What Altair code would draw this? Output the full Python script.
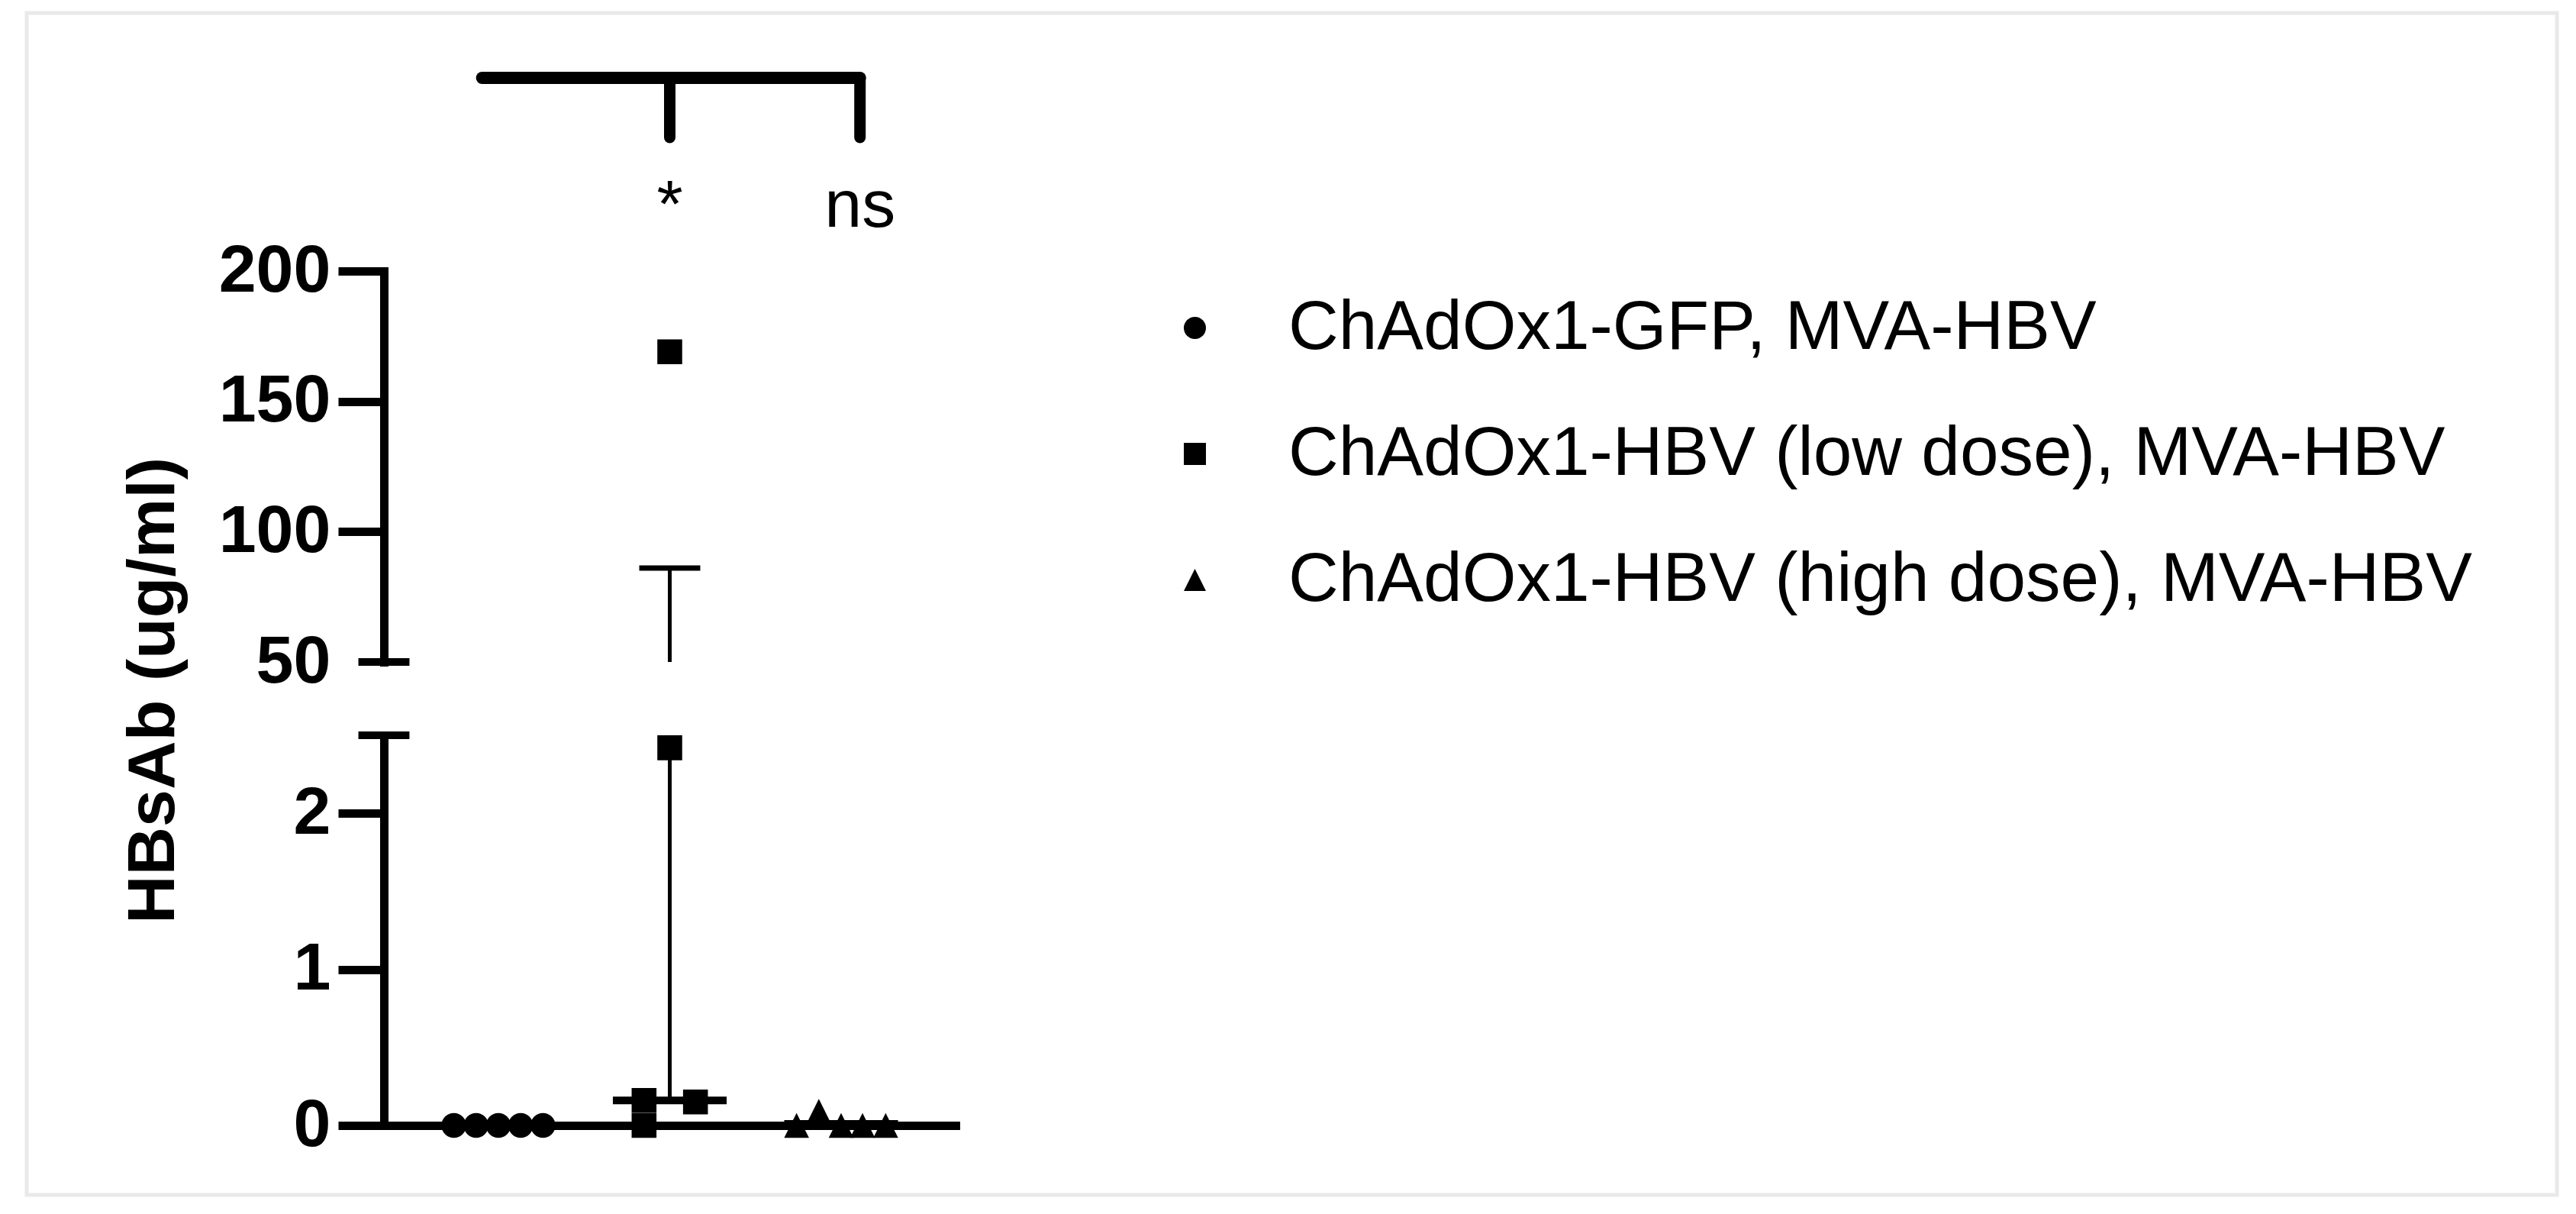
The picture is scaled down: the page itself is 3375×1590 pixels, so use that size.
import altair as alt
import pandas as pd

FONT = "Liberation Sans"

# ---------------- data ----------------
groups = [
    "ChAdOx1-GFP, MVA-HBV",
    "ChAdOx1-HBV (low dose), MVA-HBV",
    "ChAdOx1-HBV (high dose), MVA-HBV",
]
group_pos = [1, 2, 3]

gfp_values = [0.0, 0.0, 0.0, 0.0, 0.0]
gfp_offsets = [-0.26, -0.13, 0.0, 0.13, 0.26]

low_values = [0.0, 0.16, 169.0, 2.42, 0.15]
low_offsets = [-0.15, -0.15, 0.0, 0.0, 0.15]

high_values = [0.0, 0.09, 0.0, 0.0, 0.0]
high_offsets = [-0.26, -0.13, 0.0, 0.125, 0.26]

medians = [0.0, 0.16, 0.01]
err_upper = [0.0, 86.0, 0.01]

upper_ticks = [50, 100, 150, 200]
lower_ticks = [0, 1, 2]
upper_domain = [50, 200]
lower_domain = [0, 2.5]

sig_labels = ["*", "ns"]
sig_x = [2.0, 3.11]
bracket_x = [0.905, 3.11]

# ---------------- tables ----------------
rows = []
for g, pos, vals, offs in zip(groups, group_pos,
                              [gfp_values, low_values, high_values],
                              [gfp_offsets, low_offsets, high_offsets]):
    for v, o in zip(vals, offs):
        rows.append({"group": g, "x": pos + o, "value": v})
points = pd.DataFrame(rows)

err = pd.DataFrame({"group": groups, "x": group_pos, "median": medians, "top": err_upper})

X_DOMAIN = [0.332, 3.668]
BREAK_HALF = 0.149
MEDIAN_HALF = 0.332
CAP_HALF = 0.178

breaks_up = pd.DataFrame({"x": [X_DOMAIN[0] - BREAK_HALF], "x2": [X_DOMAIN[0] + BREAK_HALF],
                          "value": [upper_domain[0]]})
breaks_lo = pd.DataFrame({"x": [X_DOMAIN[0] - BREAK_HALF], "x2": [X_DOMAIN[0] + BREAK_HALF],
                          "value": [lower_domain[1]]})

bracket_h = pd.DataFrame({"x": [bracket_x[0]], "x2": [bracket_x[1]], "y": [1.0]})
bracket_v = pd.DataFrame({"x": sig_x, "y": [1.0, 1.0], "y2": [0.6, 0.6]})
sig = pd.DataFrame({"x": sig_x, "y": [0.0, 0.0], "label": sig_labels})

# ---------------- scales & axes ----------------
xscale = alt.Scale(domain=X_DOMAIN, range=[468, 1217], nice=False, zero=False)
xaxis = alt.Axis(orient="bottom", offset=-91, domainWidth=11, domainColor="black",
                 domainCap="square", ticks=False, labels=False, grid=False, title=None)

yup_scale = alt.Scale(domain=upper_domain, range=[850, 338], nice=False, zero=False)
ylo_scale = alt.Scale(domain=lower_domain, range=[1457, 946], nice=False, zero=False)
yann_scale = alt.Scale(domain=[0, 1], range=[280, 85], nice=False, zero=False)

axis_common = dict(
    orient="left", offset=-468, domainWidth=11, domainColor="black", domainCap="square",
    tickSize=60, tickWidth=11, tickColor="black",
    labelFont=FONT, labelFontWeight="bold", labelFontSize=88, labelColor="black",
    labelPadding=10, grid=False,
)
yup_axis = alt.Axis(
    values=upper_ticks,
    tickOpacity={"condition": {"test": "datum.value === 50", "value": 0}, "value": 1},
    title="HBsAb (ug/ml)", titleFont=FONT, titleFontWeight="bold", titleFontSize=88,
    titleColor="black", titleX=-276, titleY=887, titleAngle=270,
    titleBaseline="alphabetic", titleAlign="center",
    **axis_common,
)
ylo_axis = alt.Axis(values=lower_ticks, title=None, **axis_common)

x_enc = alt.X("x:Q", scale=xscale, axis=xaxis)

shape_enc = alt.Shape(
    "group:N",
    scale=alt.Scale(domain=groups, range=["circle", "square", "M0,-1L1,1L-1,1Z"]),
    legend=alt.Legend(
        orient="none", legendX=1485, legendY=367, title=None,
        labelFont=FONT, labelFontSize=91, labelColor="black", labelLimit=0,
        symbolSize=841, symbolFillColor="black", symbolStrokeColor="black",
        symbolStrokeWidth=0, symbolOpacity=1,
        rowPadding=73, labelOffset=77, padding=0,
    ),
)

# ---------------- upper segment ----------------
up_err = alt.Chart(err).transform_filter("datum.top > 50").transform_calculate(
    ylow="max(datum.median, 50)"
).mark_rule(color="black", strokeWidth=5).encode(
    x=x_enc, y=alt.Y("ylow:Q", scale=yup_scale, axis=yup_axis), y2="top:Q")

up_cap = alt.Chart(err).transform_filter("datum.top >= 50").transform_calculate(
    xa=f"datum.x - {CAP_HALF}", xb=f"datum.x + {CAP_HALF}"
).mark_rule(color="black", strokeWidth=7).encode(
    x=alt.X("xa:Q", scale=xscale, axis=xaxis), x2="xb:Q",
    y=alt.Y("top:Q", scale=yup_scale, axis=yup_axis))

up_break = alt.Chart(breaks_up).mark_rule(color="black", strokeWidth=10).encode(
    x=x_enc, x2="x2:Q", y=alt.Y("value:Q", scale=yup_scale, axis=yup_axis))

up_pts = alt.Chart(points).transform_filter("datum.value >= 50").mark_point(
    filled=True, color="black", size=1060, opacity=1, strokeWidth=0
).encode(x=x_enc, y=alt.Y("value:Q", scale=yup_scale, axis=yup_axis), shape=shape_enc)

upper = alt.layer(up_err, up_cap, up_break, up_pts)

# ---------------- lower segment ----------------
lo_med = alt.Chart(err).transform_calculate(
    xa=f"datum.x - {MEDIAN_HALF}", xb=f"datum.x + {MEDIAN_HALF}"
).mark_rule(color="black", strokeWidth=10).encode(
    x=alt.X("xa:Q", scale=xscale, axis=xaxis), x2="xb:Q",
    y=alt.Y("median:Q", scale=ylo_scale, axis=ylo_axis))

lo_err = alt.Chart(err).transform_filter("datum.top > datum.median").transform_calculate(
    ytop=f"min(datum.top, {lower_domain[1]})"
).mark_rule(color="black", strokeWidth=5).encode(
    x=x_enc, y=alt.Y("median:Q", scale=ylo_scale, axis=ylo_axis), y2="ytop:Q")

lo_break = alt.Chart(breaks_lo).mark_rule(color="black", strokeWidth=10).encode(
    x=x_enc, x2="x2:Q", y=alt.Y("value:Q", scale=ylo_scale, axis=ylo_axis))

lo_pts = alt.Chart(points).transform_filter(f"datum.value <= {lower_domain[1]}").mark_point(
    filled=True, color="black", size=1060, opacity=1, strokeWidth=0
).encode(x=x_enc, y=alt.Y("value:Q", scale=ylo_scale, axis=ylo_axis), shape=shape_enc)

lower = alt.layer(lo_med, lo_err, lo_break, lo_pts)

# ---------------- significance bracket ----------------
br_h = alt.Chart(bracket_h).mark_rule(color="black", strokeWidth=16, strokeCap="round").encode(
    x=x_enc, x2="x2:Q", y=alt.Y("y:Q", scale=yann_scale, axis=None))
br_v = alt.Chart(bracket_v).mark_rule(color="black", strokeWidth=15, strokeCap="round").encode(
    x=x_enc, y=alt.Y("y:Q", scale=yann_scale, axis=None), y2="y2:Q")
br_t = alt.Chart(sig).mark_text(font=FONT, fontSize=88, baseline="alphabetic",
                                align="center", color="black").encode(
    x=x_enc, y=alt.Y("y:Q", scale=yann_scale, axis=None), text="label:N")

annot = alt.layer(br_h, br_v, br_t)

chart = alt.layer(upper, lower, annot).resolve_scale(y="independent").resolve_axis(
    y="independent"
).properties(
    width=3315, height=1548,
    padding={"left": 27, "top": 9, "right": 10, "bottom": 10},
    autosize=alt.AutoSizeParams(type="none"),
    background="white",
).configure_view(stroke="#e9e9e9", strokeWidth=5)

chart.save("out.html", embed_options={"renderer": "svg", "actions": False})
